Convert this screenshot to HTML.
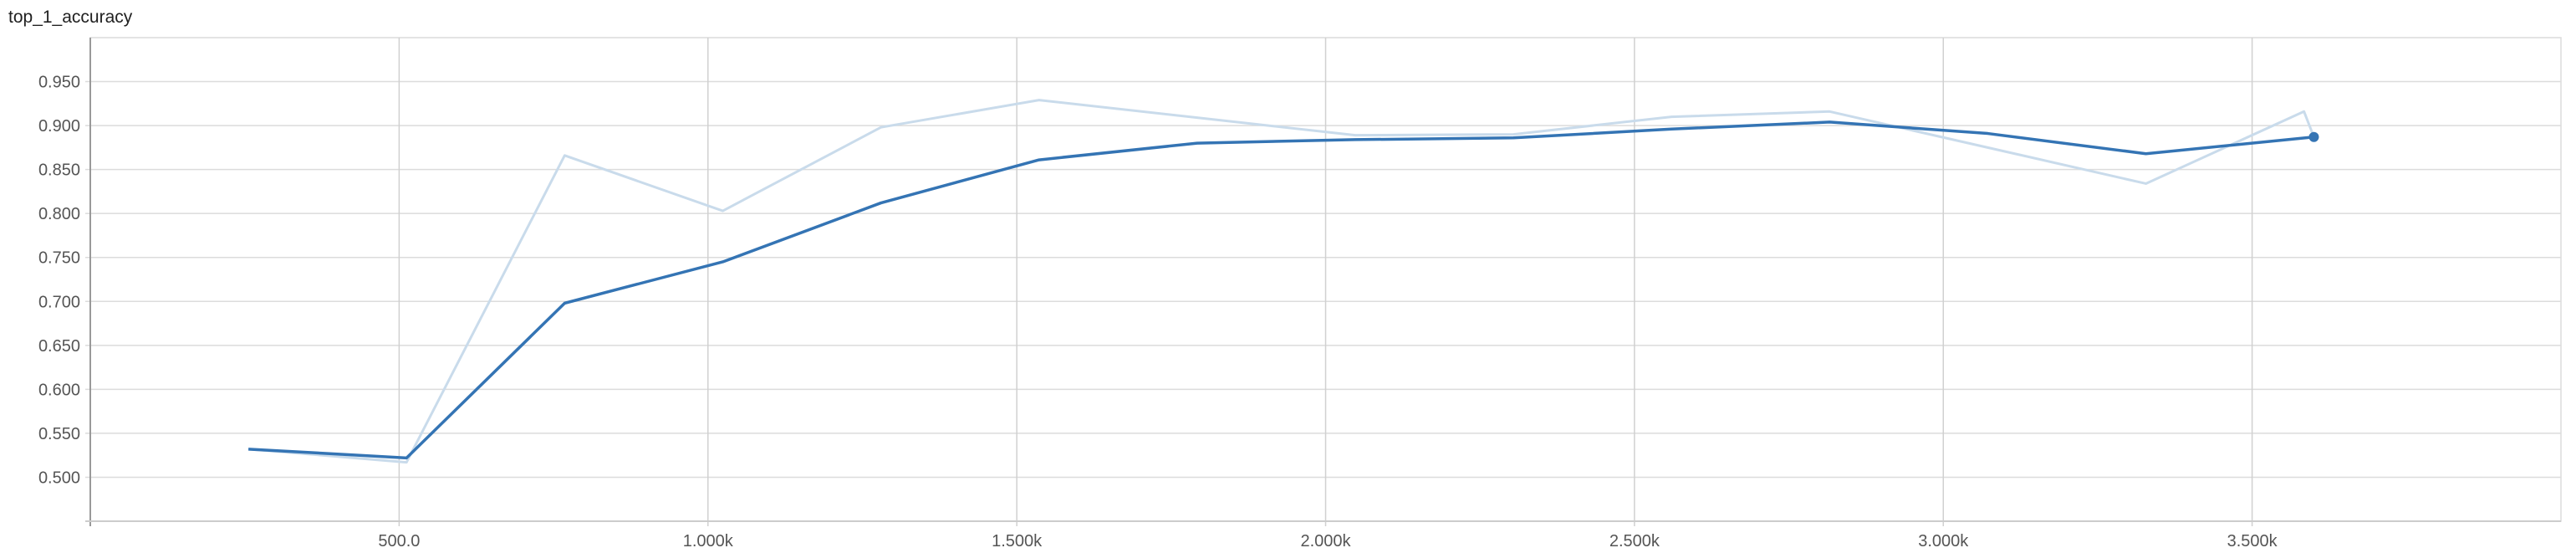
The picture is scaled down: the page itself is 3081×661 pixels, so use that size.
<!DOCTYPE html>
<html><head><meta charset="utf-8"><style>
html,body{margin:0;padding:0;background:#fff;width:3081px;height:661px;overflow:hidden}
svg{display:block;font-family:"Liberation Sans",sans-serif}
</style></head><body>
<svg id="chart" width="3081" height="661">
<text x="10" y="27" font-size="21" fill="#212121">top_1_accuracy</text>
<g id="grid"></g><g id="series"></g>
</svg>
<script>
const xTicks=[500,1000,1500,2000,2500,3000,3500];
const xTickLabels=["500.0","1.000k","1.500k","2.000k","2.500k","3.000k","3.500k"];
const yTicks=[0.5,0.55,0.6,0.65,0.7,0.75,0.8,0.85,0.9,0.95];
const yTickLabels=["0.500","0.550","0.600","0.650","0.700","0.750","0.800","0.850","0.900","0.950"];
const steps=[256,512,768,1024,1280,1536,1792,2048,2304,2560,2816,3072,3328,3600];
const smoothed=[0.532,0.522,0.698,0.745,0.812,0.861,0.880,0.884,0.886,0.896,0.904,0.891,0.868,0.887];
const rawSteps=[256,512,768,1024,1280,1536,1792,2048,2304,2560,2816,3072,3328,3584,3600];
const raw=[0.532,0.517,0.866,0.803,0.898,0.929,0.909,0.889,0.890,0.910,0.916,0.875,0.834,0.916,0.887];
const X0=108,X1=3063,Y0=623,Y1=45,xMin=0,xMax=4000,yMin=0.45,yMax=1.0;
const sx=v=>X0+(v-xMin)/(xMax-xMin)*(X1-X0);
const sy=v=>Y0-(v-yMin)/(yMax-yMin)*(Y0-Y1);
const NS="http://www.w3.org/2000/svg";
const grid=document.getElementById('grid'),ser=document.getElementById('series');
function mk(tag,attrs,parent){const e=document.createElementNS(NS,tag);for(const k in attrs)e.setAttribute(k,attrs[k]);parent.appendChild(e);return e;}
let e=mk('rect',{x:X0,y:Y1,width:X1-X0,height:Y0-Y1,fill:'none',stroke:'#dcdcdc','stroke-width':1.5},grid);


yTicks.forEach((v,i)=>{
 const l=mk('line',{x1:X0-6,x2:X1,y1:sy(v),y2:sy(v),stroke:'#dcdcdc','stroke-width':1.5},grid);
 
 
 const t=mk('text',{x:X0-12,y:sy(v)+7,'text-anchor':'end','font-size':20,fill:'#555'},grid);
 t.textContent=yTickLabels[i];
 
 
});
xTicks.forEach((v,i)=>{
 const l=mk('line',{x1:sx(v),x2:sx(v),y1:Y1,y2:Y0+6,stroke:'#d0d0d0','stroke-width':1.5},grid);
 
 
 const t=mk('text',{x:sx(v),y:Y0+30,'text-anchor':'middle','font-size':20,fill:'#555'},grid);
 t.textContent=xTickLabels[i];
 
 
});
const ax=mk('line',{x1:X0,x2:X0,y1:Y1,y2:Y0+6,stroke:'#999','stroke-width':2},grid);


const bx=mk('line',{x1:X0-6,x2:X1,y1:Y0,y2:Y0,stroke:'#ccc','stroke-width':2},grid);


const rl=mk('polyline',{points:rawSteps.map((s,i)=>sx(s)+','+sy(raw[i])).join(' '),fill:'none',stroke:'#c9dbeb','stroke-width':3,'stroke-linejoin':'round'},ser);


const sl=mk('polyline',{points:steps.map((s,i)=>sx(s)+','+sy(smoothed[i])).join(' '),fill:'none',stroke:'#3474b4','stroke-width':3.5,'stroke-linejoin':'round'},ser);


const n=steps.length-1;
const dot=mk('circle',{cx:sx(steps[n]),cy:sy(smoothed[n]),r:6,fill:'#3474b4'},ser);


</script>
</body></html>
